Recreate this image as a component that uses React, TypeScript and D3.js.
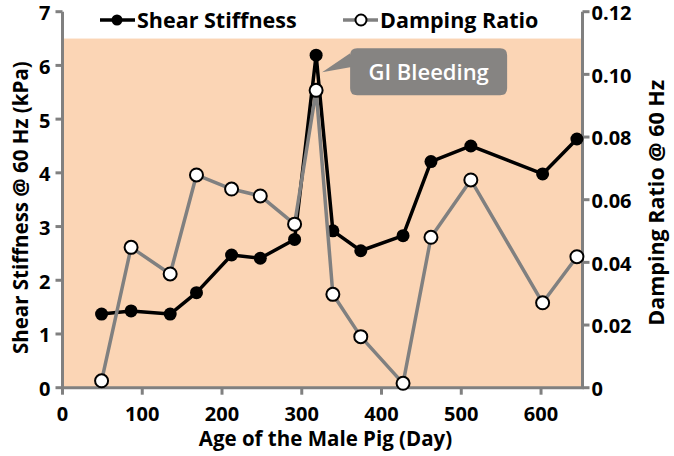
import React from "react";
import * as d3 from "d3";

const ages = [49, 86, 135, 168, 212, 248, 291, 318, 339, 374, 427, 462, 512, 602, 645];
const shearStiffness = [1.37, 1.43, 1.37, 1.77, 2.47, 2.41, 2.76, 6.19, 2.92, 2.55, 2.83, 4.21, 4.5, 3.98, 4.63];
const dampingRatio = [0.0022, 0.0448, 0.0363, 0.0679, 0.0634, 0.0612, 0.0522, 0.0949, 0.0298, 0.0163, 0.0014, 0.048, 0.0663, 0.0271, 0.0418];
const xTicks = [0, 100, 200, 300, 400, 500, 600];
const leftTicks = [0, 1, 2, 3, 4, 5, 6, 7];
const rightTicks = [0, 0.02, 0.04, 0.06, 0.08, 0.1, 0.12];
const rightTickLabels = ["0", "0.02", "0.04", "0.06", "0.08", "0.10", "0.12"];
const shadeTop = 6.5;
const seriesNames = ["Shear Stiffness", "Damping Ratio"];
const calloutText = "GI Bleeding";
const calloutIndex = 7;

const W = 674;
const H = 456;
const L = 62.5;
const R = 582.5;
const T = 11.7;
const B = 387.7;
const FONT = "'Open Sans', sans-serif";
const AXIS = "#808080";

export default function App() {
  const x = d3.scaleLinear().domain([0, 652]).range([L, R]);
  const yL = d3.scaleLinear().domain([0, 7]).range([B, T]);
  const yR = d3.scaleLinear().domain([0, 0.12]).range([B, T]);

  const shearLine = d3
    .line<number>()
    .x((_, i) => x(ages[i]))
    .y((d) => yL(d));
  const dampLine = d3
    .line<number>()
    .x((_, i) => x(ages[i]))
    .y((d) => yR(d));

  const px = x(ages[calloutIndex]);
  const py = yL(shearStiffness[calloutIndex]);
  const cx0 = px + 34;
  const cx1 = px + 191;
  const cy0 = py - 7;
  const cy1 = py + 40;
  const r = 7;
  const calloutPath = [
    `M${cx0 + r},${cy0}`,
    `H${cx1 - r}`,
    `Q${cx1},${cy0} ${cx1},${cy0 + r}`,
    `V${cy1 - r}`,
    `Q${cx1},${cy1} ${cx1 - r},${cy1}`,
    `H${cx0 + r}`,
    `Q${cx0},${cy1} ${cx0},${cy1 - r}`,
    `V${cy0 + 19}`,
    `L${px + 6},${py + 17}`,
    `L${cx0},${cy0 + 5}`,
    `V${cy0 + r}`,
    `Q${cx0},${cy0} ${cx0 + r},${cy0}`,
    "Z",
  ].join(" ");

  return (
    <svg width={W} height={H} style={{ position: "absolute", left: 0, top: 0, background: "#fff" }} fontFamily={FONT}>
      <rect x={L} y={yL(shadeTop)} width={R - L} height={B - yL(shadeTop)} fill="#fbd5b5" />

      {/* axes */}
      <line x1={L} x2={L} y1={T} y2={B} stroke={AXIS} strokeWidth={3} />
      <line x1={R} x2={R} y1={T} y2={B} stroke={AXIS} strokeWidth={3} />
      <line x1={L - 1.5} x2={R + 1.5} y1={B} y2={B} stroke={AXIS} strokeWidth={3} />
      {leftTicks.map((t) => (
        <g key={"l" + t}>
          <line x1={L - 7} x2={L} y1={yL(t)} y2={yL(t)} stroke={AXIS} strokeWidth={3} />
          <text x={L - 12} y={yL(t)} dy="0.42em" textAnchor="end" fontSize={20} fontWeight={700} fill="#000">
            {t}
          </text>
        </g>
      ))}
      {rightTicks.map((t, i) => (
        <g key={"r" + t}>
          <line x1={R} x2={R + 7} y1={yR(t)} y2={yR(t)} stroke={AXIS} strokeWidth={3} />
          <text x={R + 9} y={yR(t)} dy="0.42em" textAnchor="start" fontSize={20} fontWeight={700} fill="#000">
            {rightTickLabels[i]}
          </text>
        </g>
      ))}
      {xTicks.map((t) => (
        <g key={"x" + t}>
          <line x1={x(t)} x2={x(t)} y1={B} y2={B + 7} stroke={AXIS} strokeWidth={3} />
          <text x={x(t)} y={B + 33} textAnchor="middle" fontSize={20} fontWeight={700} fill="#000">
            {t}
          </text>
        </g>
      ))}

      <text x={(L + R) / 2 + 3} y={446} textAnchor="middle" fontSize={20.5} fontWeight={700} fill="#000">
        Age of the Male Pig (Day)
      </text>
      <text transform={`translate(28,${(T + B) / 2 + 8}) rotate(-90)`} textAnchor="middle" fontSize={20.5} fontWeight={700} fill="#000">
        Shear Stiffness @ 60 Hz (kPa)
      </text>
      <text transform={`translate(664,${(T + B) / 2 + 3}) rotate(-90)`} textAnchor="middle" fontSize={21.5} fontWeight={700} fill="#000">
        Damping Ratio @ 60 Hz
      </text>

      {/* shear series */}
      <path d={shearLine(shearStiffness) ?? ""} fill="none" stroke="#000" strokeWidth={3.5} strokeLinejoin="round" />
      {shearStiffness.map((v, i) => (
        <circle key={"s" + i} cx={x(ages[i])} cy={yL(v)} r={6.5} fill="#000" />
      ))}

      {/* damping series */}
      <path d={dampLine(dampingRatio) ?? ""} fill="none" stroke={AXIS} strokeWidth={3.5} strokeLinejoin="round" />
      {dampingRatio.map((v, i) => (
        <circle key={"d" + i} cx={x(ages[i])} cy={yR(v)} r={6.5} fill="#fff" stroke="#000" strokeWidth={2} />
      ))}

      {/* callout */}
      <path d={calloutPath} fill="#7f7f7f" fillOpacity={0.95} />
      <text x={(cx0 + cx1) / 2} y={(cy0 + cy1) / 2} dy="0.36em" textAnchor="middle" fontSize={22} fontWeight={600} fill="#fff">
        {calloutText}
      </text>

      {/* legend */}
      <line x1={100} x2={135} y1={20} y2={20} stroke="#000" strokeWidth={3.5} />
      <circle cx={117} cy={20} r={5.5} fill="#000" />
      <text x={137} y={20} dy="0.36em" fontSize={21.5} fontWeight={700} fill="#000">
        {seriesNames[0]}
      </text>
      <line x1={343} x2={378} y1={20} y2={20} stroke={AXIS} strokeWidth={3.5} />
      <circle cx={361} cy={20} r={5.5} fill="#fff" stroke="#000" strokeWidth={2} />
      <text x={380} y={20} dy="0.36em" fontSize={21.5} fontWeight={700} fill="#000">
        {seriesNames[1]}
      </text>
    </svg>
  );
}
